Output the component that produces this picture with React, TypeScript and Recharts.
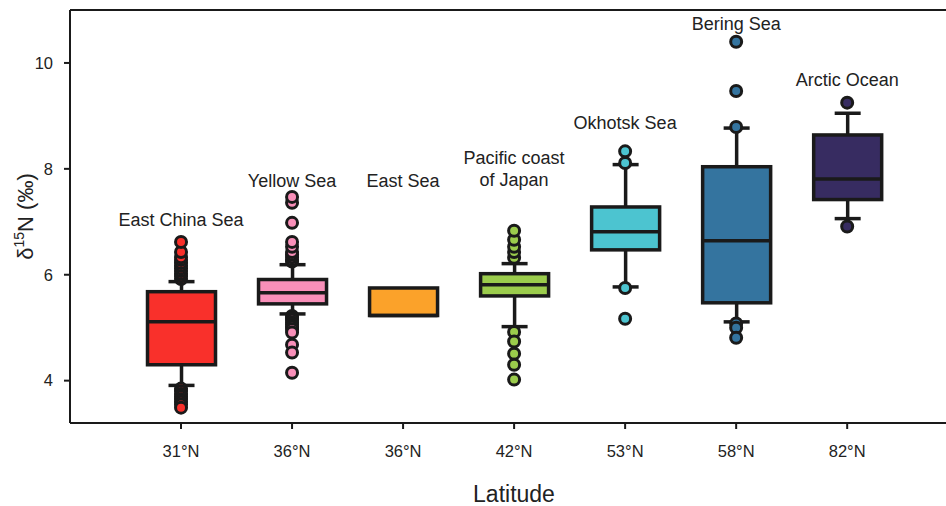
import { ComposedChart, Bar, Scatter, XAxis, YAxis, ReferenceLine } from 'recharts'

const regions = ['East China Sea', 'Yellow Sea', 'East Sea', 'Pacific coast\nof Japan', 'Okhotsk Sea', 'Bering Sea', 'Arctic Ocean']
const latitudes = ['31°N', '36°N', '36°N', '42°N', '53°N', '58°N', '82°N']
const colors = ['#f9302b', '#f98fb9', '#fba22a', '#9bcc4c', '#4cc4d0', '#34749f', '#372c61']

const q1 = [4.3, 5.45, 5.23, 5.6, 6.47, 5.47, 7.42]
const median = [5.11, 5.66, 5.23, 5.81, 6.81, 6.64, 7.81]
const q3 = [5.68, 5.91, 5.75, 6.02, 7.28, 8.04, 8.64]
const whiskerLow = [3.91, 5.26, 5.23, 5.02, 5.77, 5.11, 7.06]
const whiskerHigh = [5.87, 6.19, 5.75, 6.21, 8.08, 8.77, 9.05]

const outliers = [
  [5.92, 5.97, 6.02, 6.07, 6.12, 6.17, 6.22, 6.28, 6.33, 6.43, 6.62, 3.85, 3.8, 3.75, 3.7, 3.65, 3.6, 3.55, 3.49],
  [6.25, 6.28, 6.33, 6.38, 6.43, 6.53, 6.62, 6.98, 7.36, 7.47, 5.22, 5.18, 5.15, 5.1, 5.06, 5.02, 4.97, 4.91, 4.68, 4.53, 4.15],
  [],
  [6.32, 6.43, 6.53, 6.66, 6.83, 4.92, 4.74, 4.51, 4.3, 4.02],
  [8.11, 8.33, 5.75, 5.17],
  [8.79, 9.47, 10.4, 5.08, 5.0, 4.81],
  [9.25, 6.91],
]

const labelValue = [6.92, 7.66, 7.66, 7.68, 8.75, 10.62, 9.57]
const yTicks = [4, 6, 8, 10]

const boxData = regions.map((name, i) => ({
  x: i + 1,
  name,
  box: [q1[i], q3[i]],
  q1: q1[i],
  q3: q3[i],
  median: median[i],
  lo: whiskerLow[i],
  hi: whiskerHigh[i],
  color: colors[i],
}))

const outlierData = outliers.flatMap((vals, i) => vals.map((v) => ({ x: i + 1, y: v, color: colors[i] })))
const labelData = regions.map((name, i) => ({ x: i + 1, y: labelValue[i], name }))

const INK = '#1a1a1a'
const FONT = '"Liberation Sans", Arial, sans-serif'

function BoxShape(props: any) {
  const { x, y, width, height, payload } = props
  const top = Math.min(y, y + height)
  const h = Math.abs(height)
  const ppu = h / (payload.q3 - payload.q1)
  const toY = (v: number) => top + (payload.q3 - v) * ppu
  const cx = x + width / 2
  const cap = 13
  return (
    <g>
      {payload.hi > payload.q3 && (
        <g stroke={INK} strokeWidth={3.5}>
          <line x1={cx} x2={cx} y1={toY(payload.hi)} y2={top} />
          <line x1={cx - cap} x2={cx + cap} y1={toY(payload.hi)} y2={toY(payload.hi)} />
        </g>
      )}
      {payload.lo < payload.q1 && (
        <g stroke={INK} strokeWidth={3.5}>
          <line x1={cx} x2={cx} y1={top + h} y2={toY(payload.lo)} />
          <line x1={cx - cap} x2={cx + cap} y1={toY(payload.lo)} y2={toY(payload.lo)} />
        </g>
      )}
      <rect x={x} y={top} width={width} height={h} fill={payload.color} stroke={INK} strokeWidth={3.5} />
      <line x1={x} x2={x + width} y1={toY(payload.median)} y2={toY(payload.median)} stroke={INK} strokeWidth={3.5} />
    </g>
  )
}

function OutlierDot(props: any) {
  const { cx, cy, payload } = props
  return <circle cx={cx} cy={cy} r={5.5} fill={payload.color} stroke={INK} strokeWidth={3} />
}

function RegionLabel(props: any) {
  const { cx, cy, payload } = props
  const lines = String(payload.name).split('\n')
  return (
    <text textAnchor="middle" fontSize={18} fill="#222" fontFamily={FONT}>
      {lines.map((l, k) => (
        <tspan key={k} x={cx} y={cy - (lines.length - 1 - k) * 22}>
          {l}
        </tspan>
      ))}
    </text>
  )
}

function YLabel(props: any) {
  const vb = props.viewBox
  const cy = vb.y + vb.height / 2
  const bx = 33
  return (
    <text x={bx} y={cy} textAnchor="middle" fontSize={22} fill="#222" fontFamily={FONT} transform={`rotate(-90, ${bx}, ${cy})`}>
      δ<tspan dy={-9} fontSize={14}>15</tspan>
      <tspan dy={9}>N (‰)</tspan>
    </text>
  )
}

export default function App() {
  return (
    <div style={{ position: 'absolute', left: 0, top: 0, background: '#fff' }}>
      <ComposedChart width={946} height={506} data={boxData} margin={{ top: 10, right: 0, bottom: 0, left: 0 }}>
        <XAxis
          dataKey="x"
          type="number"
          domain={[0, 7.89]}
          ticks={[1, 2, 3, 4, 5, 6, 7]}
          tickFormatter={(v: number) => latitudes[v - 1]}
          height={83}
          stroke={INK}
          strokeWidth={2}
          tickSize={6}
          tickMargin={16}
          tick={{ fill: '#222', fontSize: 16.5, fontFamily: FONT }}
          label={{ value: 'Latitude', position: 'insideBottom', offset: 4, dx: 6, fill: '#222', fontSize: 23, fontFamily: FONT }}
        />
        <YAxis
          dataKey="y"
          type="number"
          domain={[3.2, 11]}
          ticks={yTicks}
          width={70}
          stroke={INK}
          strokeWidth={2}
          tickSize={6}
          tickMargin={11}
          tick={{ fill: '#222', fontSize: 16.5, fontFamily: FONT }}
          label={{ content: YLabel }}
        />
        <ReferenceLine y={11} stroke={INK} strokeWidth={2} />
        <Scatter data={outlierData} dataKey="y" shape={OutlierDot} isAnimationActive={false} />
        <Bar dataKey="box" barSize={68} shape={BoxShape} isAnimationActive={false} />
        <Scatter data={labelData} dataKey="y" shape={RegionLabel} isAnimationActive={false} />
      </ComposedChart>
    </div>
  )
}
